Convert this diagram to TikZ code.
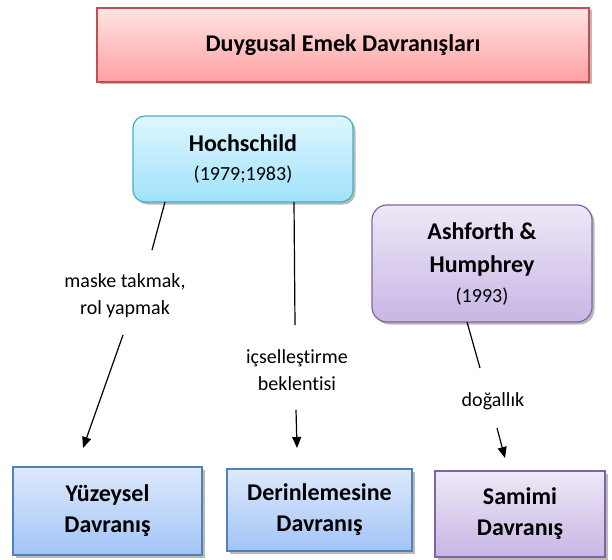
\documentclass[tikz,border=0pt]{standalone}
\usepackage{fontspec}
\setmainfont{Carlito}[Ligatures=NoCommon]
\usetikzlibrary{shadows,arrows.meta}
\definecolor{redB}{RGB}{192,80,77}
\definecolor{redT}{RGB}{255,228,228}
\definecolor{redM}{RGB}{255,160,160}
\definecolor{cyanB}{RGB}{75,172,198}
\definecolor{cyanT}{RGB}{222,246,255}
\definecolor{cyanM}{RGB}{160,226,250}
\definecolor{purB}{RGB}{128,100,162}
\definecolor{purT}{RGB}{238,232,247}
\definecolor{purM}{RGB}{200,182,228}
\definecolor{bluB}{RGB}{79,129,189}
\definecolor{bluT}{RGB}{222,233,252}
\definecolor{bluM}{RGB}{162,196,246}
\tikzset{
  x=1pt, y=-1pt,
  boxbase/.style={line width=1.2pt, align=center, inner sep=0pt,
    drop shadow={shadow xshift=2.5pt, shadow yshift=-2.5pt, opacity=0.45, fill=black!60}},
  redbox/.style={boxbase, draw=redB, top color=redT, bottom color=redM},
  cyanbox/.style={boxbase, draw=cyanB, top color=cyanT, bottom color=cyanM, rounded corners=12pt},
  purbox/.style={boxbase, draw=purB, top color=purT, bottom color=purM},
  blubox/.style={boxbase, draw=bluB, top color=bluT, bottom color=bluM},
  big/.style={font=\fontsize{24}{31}\selectfont\bfseries},
  lbl/.style={align=center, inner sep=0pt, font=\fontsize{20}{27}\selectfont},
  conn/.style={line width=1.2pt},
  arr/.style={line width=1.2pt, -{Triangle[length=11pt,width=9pt]}}
}
\begin{document}
\begin{tikzpicture}
\useasboundingbox (0,0) rectangle (612,559);
\node[redbox, big, minimum width=492pt, minimum height=74pt] (top) at (343,45) {Duygusal Emek Davranışları};
\node[cyanbox, font=\fontsize{24}{29}\selectfont, minimum width=220pt, minimum height=86pt] (hoch) at (243,159)
  {{\bfseries Hochschild}\\{\fontsize{20}{24}\selectfont (1979;1983)}};
\node[purbox, font=\fontsize{24}{30}\selectfont, rounded corners=15pt, minimum width=220pt, minimum height=117pt] (ash) at (482,263.5)
  {{\bfseries Ashforth \&}\\[3pt]{\bfseries Humphrey}\\{\fontsize{20}{24}\selectfont (1993)}};
\node[blubox, big, minimum width=189pt, minimum height=88pt] (yuz) at (107.5,511) {Yüzeysel\\Davranış};
\node[blubox, big, minimum width=185pt, minimum height=82pt] (der) at (319.5,510) {Derinlemesine\\Davranış};
\node[purbox, big, minimum width=170pt, minimum height=86pt] (sam) at (520,514) {Samimi\\Davranış};
\node[lbl] (maske) at (125,296) {maske takmak,\\rol yapmak};
\node[lbl] (icsel) at (297,370) {içselleştirme\\beklentisi};
\node[lbl] (dogal) at (493,401) {doğallık};
\coordinate (a1) at (165,202);
\coordinate (a2) at (152,250);
\coordinate (a3) at (123,335);
\coordinate (a4) at (83,448);
\coordinate (b1) at (294,202);
\coordinate (b2) at (295,325);
\coordinate (b3) at (296,410);
\coordinate (b4) at (297,448);
\coordinate (c1) at (467,322);
\coordinate (c2) at (480,368);
\coordinate (c3) at (497,428);
\coordinate (c4) at (505,458);
\draw[conn] (a1) -- (a2);
\draw[arr] (a3) -- (a4);
\draw[conn] (b1) -- (b2);
\draw[arr] (b3) -- (b4);
\draw[conn] (c1) -- (c2);
\draw[arr] (c3) -- (c4);
\end{tikzpicture}
\end{document}
